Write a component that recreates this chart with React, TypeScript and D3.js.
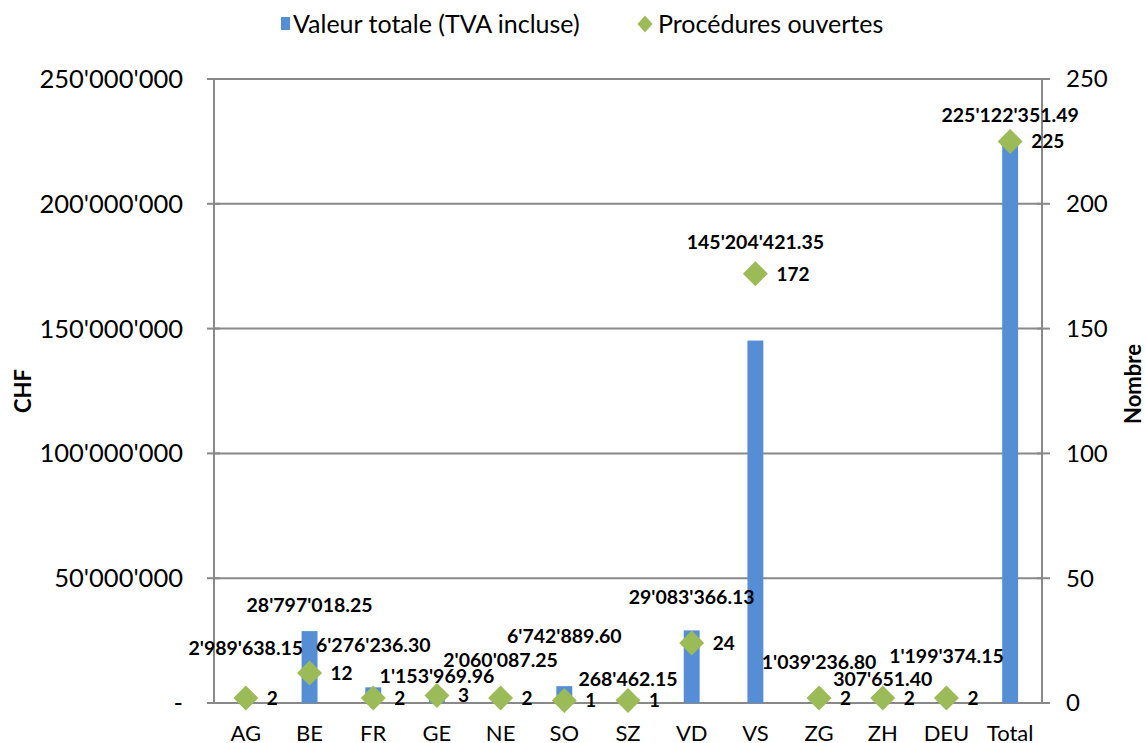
import React from "react";
import * as d3 from "d3";

// data
const cantons = ["AG", "BE", "FR", "GE", "NE", "SO", "SZ", "VD", "VS", "ZG", "ZH", "DEU", "Total"];
const valeurTotale = [
  2989638.15, 28797018.25, 6276236.3, 1153969.96, 2060087.25, 6742889.6, 268462.15,
  29083366.13, 145204421.35, 1039236.8, 307651.4, 1199374.15, 225122351.49
];
const proceduresOuvertes = [2, 12, 2, 3, 2, 1, 1, 24, 172, 2, 2, 2, 225];
const leftTicks = [0, 50000000, 100000000, 150000000, 200000000, 250000000];
const rightTicks = [0, 50, 100, 150, 200, 250];
const legendLabels = ["Valeur totale (TVA incluse)", "Procédures ouvertes"];

// layout: how far each value label is lifted above its marks (manual placement, staggered)
const labelLift = [38, 26, 41, 8, 26, 50, 10, 33, 20, 24, 7, 30, 14];

const WIDTH = 1145;
const HEIGHT = 743;
const margin = { left: 214, right: 103, top: 79, bottom: 40 };
const FONT = "Lato, 'Open Sans', sans-serif";
const BAR = "#558ED5";
const GREEN = "#9BBB59";
const AXIS = "#898989";

const fmtChf = (v: number) => {
  const [int, dec] = v.toFixed(2).split(".");
  return int.replace(/\B(?=(\d{3})+(?!\d))/g, "'") + "." + dec;
};
const fmtTick = (v: number) => (v === 0 ? "-" : d3.format(",")(v).replace(/,/g, "'"));

const diamond = (cx: number, cy: number, rx: number, ry: number) =>
  `M${cx},${cy - ry}L${cx + rx},${cy}L${cx},${cy + ry}L${cx - rx},${cy}Z`;

export default function App() {
  const plotW = WIDTH - margin.left - margin.right;
  const plotH = HEIGHT - margin.top - margin.bottom;
  const x0 = margin.left;
  const y0 = margin.top;

  const xScale = d3.scaleBand<string>().domain(cantons).range([x0, x0 + plotW]).padding(0);
  const yLeft = d3.scaleLinear().domain([0, 250000000]).range([y0 + plotH, y0]);
  const yRight = d3.scaleLinear().domain([0, 250]).range([y0 + plotH, y0]);
  const barW = xScale.bandwidth() * 0.25;
  const baseY = yLeft(0);

  return (
    <svg
      width={WIDTH}
      height={HEIGHT}
      style={{ position: "absolute", left: 0, top: 0, background: "#fff" }}
      fontFamily={FONT}
    >
      {/* gridlines */}
      {leftTicks.map(t => (
        <line key={"g" + t} x1={x0} x2={x0 + plotW} y1={yLeft(t)} y2={yLeft(t)} stroke={AXIS} strokeWidth={2} />
      ))}
      {/* left axis */}
      <line x1={x0} x2={x0} y1={y0} y2={baseY} stroke={AXIS} strokeWidth={2} />
      {leftTicks.map(t => (
        <g key={"l" + t}>
          <line x1={x0 - 7} x2={x0 + 6} y1={yLeft(t)} y2={yLeft(t)} stroke={AXIS} strokeWidth={2} />
          <text x={183} y={yLeft(t)} dy="0.35em" textAnchor="end" fontSize={25.5} fill="#000">
            {fmtTick(t)}
          </text>
        </g>
      ))}
      {/* right axis */}
      <line x1={x0 + plotW} x2={x0 + plotW} y1={y0} y2={baseY} stroke={AXIS} strokeWidth={2} />
      {rightTicks.map(t => (
        <g key={"r" + t}>
          <line x1={x0 + plotW - 5} x2={x0 + plotW + 8} y1={yRight(t)} y2={yRight(t)} stroke={AXIS} strokeWidth={2} />
          <text x={1066} y={yRight(t)} dy="0.35em" fontSize={24} fill="#000">
            {t}
          </text>
        </g>
      ))}
      {/* bottom axis */}
      <line x1={x0 - 7} x2={x0 + plotW} y1={baseY} y2={baseY} stroke={AXIS} strokeWidth={2} />

      {/* bars */}
      {cantons.map((c, i) => (
        <rect
          key={"b" + c}
          x={(xScale(c) as number) + xScale.bandwidth() / 2 - barW / 2}
          y={yLeft(valeurTotale[i])}
          width={barW}
          height={baseY - yLeft(valeurTotale[i])}
          fill={BAR}
        />
      ))}

      {/* diamonds + count labels */}
      {cantons.map((c, i) => {
        const cx = (xScale(c) as number) + xScale.bandwidth() / 2;
        const cy = yRight(proceduresOuvertes[i]);
        return (
          <g key={"d" + c}>
            <path d={diamond(cx, cy, 12.5, 12.5)} fill={GREEN} />
            <text x={cx + 21} y={cy} dy="0.36em" fontSize={19} fontWeight="bold" fill="#000">
              {proceduresOuvertes[i]}
            </text>
          </g>
        );
      })}

      {/* value labels */}
      {cantons.map((c, i) => {
        const cx = (xScale(c) as number) + xScale.bandwidth() / 2;
        const anchor = Math.min(yLeft(valeurTotale[i]), yRight(proceduresOuvertes[i]) - 12);
        return (
          <text
            key={"v" + c}
            x={cx}
            y={anchor - labelLift[i]}
            dy="0.36em"
            textAnchor="middle"
            fontSize={19.5}
            fontWeight="bold"
            fill="#000"
          >
            {fmtChf(valeurTotale[i])}
          </text>
        );
      })}

      {/* category labels */}
      {cantons.map(c => (
        <text
          key={"c" + c}
          x={(xScale(c) as number) + xScale.bandwidth() / 2}
          y={741}
          textAnchor="middle"
          fontSize={22}
          fill="#000"
        >
          {c}
        </text>
      ))}

      {/* axis titles */}
      <text transform="translate(31,391) rotate(-90)" textAnchor="middle" fontSize={22} fontWeight="bold">
        CHF
      </text>
      <text transform="translate(1141,384) rotate(-90)" textAnchor="middle" fontSize={22} fontWeight="bold">
        Nombre
      </text>

      {/* legend */}
      <rect x={281} y={17} width={9} height={13} fill={BAR} />
      <text x={293} y={24} dy="0.35em" fontSize={25} fill="#000">
        {legendLabels[0]}
      </text>
      <path d={diamond(645, 24, 7.5, 8.5)} fill={GREEN} />
      <text x={658} y={24} dy="0.35em" fontSize={25} fill="#000">
        {legendLabels[1]}
      </text>
    </svg>
  );
}
